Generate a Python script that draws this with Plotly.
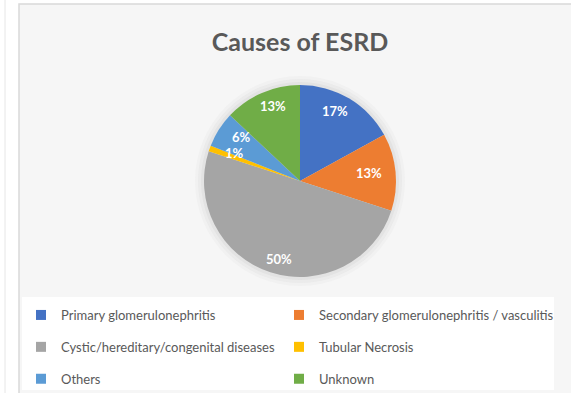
import math
import plotly.graph_objects as go

# Causes of end-stage renal disease (share of patients, %)
causes = [
    "Primary glomerulonephritis",
    "Secondary glomerulonephritis / vasculitis",
    "Cystic/hereditary/congenital diseases",
    "Tubular Necrosis",
    "Others",
    "Unknown",
]
shares = [17, 13, 50, 1, 6, 13]
colors = ["#4472C4", "#ED7D31", "#A5A5A5", "#FFC000", "#5B9BD5", "#70AD47"]

W, H = 571, 393
cx, cy, r = 300, 181, 96   # pie centre and radius in pixels
label_rx, label_ry = 0.72, 0.85  # data label offset, as fractions of the radius
text_grey = "#595959"

fig = go.Figure()
fig.add_trace(
    go.Pie(
        labels=causes,
        values=shares,
        sort=False,
        direction="clockwise",
        rotation=0,
        marker=dict(colors=colors, line=dict(width=0)),
        textinfo="none",
        hovertemplate="%{label}: %{value}%<extra></extra>",
        showlegend=False,
        domain=dict(x=[(cx - r) / W, (cx + r) / W], y=[1 - (cy + r) / H, 1 - (cy - r) / H]),
    )
)

# Legend keys in two columns: even entries on the left, odd entries on the right
for i, (name, col) in enumerate(zip(causes, colors)):
    fig.add_trace(
        go.Scatter(
            x=[None], y=[None], mode="markers", name=name,
            marker=dict(symbol="square", size=10, color=col, line=dict(width=0)),
            legend="legend" if i % 2 == 0 else "legend2",
            legendgroup=f"g{i}",
            hoverinfo="skip",
        )
    )

# Data labels, placed at the middle angle of each slice
annotations = []
total = sum(shares)
start = 0.0
for v in shares:
    mid = (start + v / 2) / total * 2 * math.pi
    start += v
    lx = cx + label_rx * r * math.sin(mid)
    ly = cy - label_ry * r * math.cos(mid)
    annotations.append(dict(
        x=lx / W, y=1 - ly / H, xref="paper", yref="paper",
        xanchor="center", yanchor="middle",
        text=f"<b>{v}%</b>", showarrow=False,
        font=dict(family="Lato", size=13, color="white"),
    ))

shapes = [
    # thin page rule on the left
    dict(type="line", xref="paper", yref="paper", x0=5 / W, x1=5 / W, y0=0, y1=1,
         line=dict(color="#e6e6e6", width=1), layer="below"),
    # chart area
    dict(type="rect", xref="paper", yref="paper", x0=19 / W, x1=1.01, y0=-0.01, y1=1 - 4 / H,
         fillcolor="#f6f6f6", line=dict(color="#d9d9d9", width=1.5), layer="below"),
    # legend panel
    dict(type="rect", xref="paper", yref="paper", x0=22 / W, x1=554 / W, y0=1 - 390 / H, y1=1 - 297 / H,
         fillcolor="white", line=dict(width=0), layer="below"),
]
# soft glow around the pie
for dr, op in [(9, 0.05), (6, 0.07), (3, 0.10)]:
    shapes.append(dict(type="circle", xref="paper", yref="paper",
                       x0=(cx - r - dr) / W, x1=(cx + r + dr) / W,
                       y0=1 - (cy + r + dr) / H, y1=1 - (cy - r - dr) / H,
                       fillcolor="#9a9a9a", opacity=op, line=dict(width=0), layer="below"))

legend_style = dict(
    orientation="v",
    xanchor="left",
    y=1 - 300 / H,
    yanchor="top",
    bgcolor="rgba(0,0,0,0)",
    font=dict(family="Lato", size=13, color=text_grey),
    itemwidth=30,
    traceorder="grouped",
    tracegroupgap=12,
)

fig.update_layout(
    width=W,
    height=H,
    margin=dict(l=0, r=0, t=0, b=0, autoexpand=False),
    paper_bgcolor="white",
    plot_bgcolor="rgba(0,0,0,0)",
    xaxis=dict(visible=False),
    yaxis=dict(visible=False),
    shapes=shapes,
    annotations=annotations,
    title=dict(
        text="<b>Causes of ESRD</b>",
        x=300 / W,
        xanchor="center",
        y=1 - 42 / H,
        yanchor="middle",
        font=dict(family="Lato", size=25, color=text_grey),
    ),
    showlegend=True,
    legend=dict(legend_style, x=21 / W),
    legend2=dict(legend_style, x=279 / W),
)

fig.write_html("out.html")
